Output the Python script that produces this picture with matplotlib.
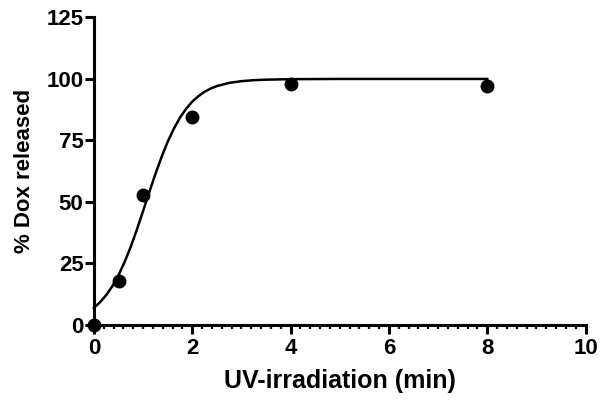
import matplotlib
matplotlib.use('Agg')
import matplotlib.pyplot as plt
from matplotlib.ticker import MultipleLocator

# measured release points
uv_min = [0, 0.5, 1, 2, 4, 8]
dox_released = [0, 17.8, 53, 84.4, 97.8, 97]

# fitted curve
fit_x = [0, 0.125, 0.25, 0.375, 0.5, 0.625, 0.75, 0.875, 1.0, 1.125, 1.25, 1.375,
         1.5, 1.625, 1.75, 1.875, 2.0, 2.125, 2.25, 2.375, 2.5, 2.75, 3.0, 3.25,
         3.5, 4, 5, 6, 8]
fit_y = [7.0, 9.3, 12.2, 15.8, 20.3, 25.7, 31.9, 38.9, 46.4, 54.0, 61.4, 68.3,
         74.5, 79.8, 84.3, 87.9, 90.8, 93.0, 94.8, 96.1, 97.1, 98.4, 99.1, 99.5,
         99.7, 99.9, 100, 100, 100]

x_ticks = [0, 2, 4, 6, 8, 10]
y_ticks = [0, 25, 50, 75, 100, 125]

plt.rcParams['font.family'] = ['Liberation Sans', 'DejaVu Sans']
plt.rcParams['font.weight'] = 'bold'

fig = plt.figure(figsize=(6.04, 4.05), dpi=100)
ax = fig.add_axes([0.1556, 0.1975, 0.8139, 0.7595])

ax.plot(fit_x, fit_y, color='black', lw=1.8, clip_on=False)
ax.plot(uv_min, dox_released, 'o', color='black', ms=9, clip_on=False, zorder=5)

ax.set_xlim(0, 10)
ax.set_ylim(0, 125)
ax.set_xticks(x_ticks)
ax.set_yticks(y_ticks)
ax.xaxis.set_minor_locator(MultipleLocator(0.2))

for s in ['top', 'right']:
    ax.spines[s].set_visible(False)
for s in ['left', 'bottom']:
    ax.spines[s].set_linewidth(2.2)

ax.tick_params(axis='both', which='major', length=6.5, width=2.2, labelsize=16)
ax.tick_params(axis='y', which='major', pad=1)
ax.tick_params(axis='x', which='major', pad=3)
ax.tick_params(axis='x', which='minor', length=3, width=1.6)

ax.set_xlabel('UV-irradiation (min)', fontsize=18, fontweight='bold', labelpad=7)
ax.set_ylabel('% Dox released', fontsize=16, fontweight='bold', labelpad=8)

fig.savefig('out.png', dpi=100)
